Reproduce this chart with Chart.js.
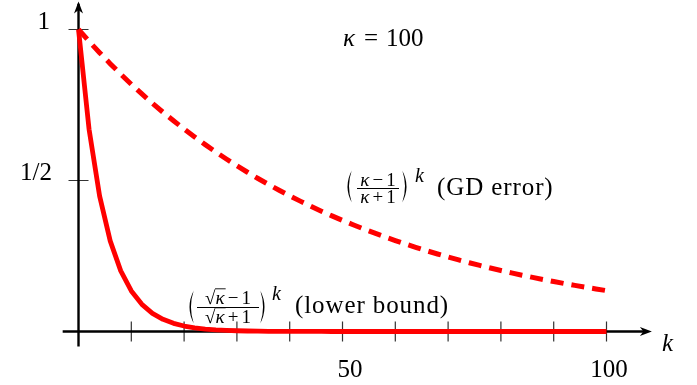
<!DOCTYPE html>
<html>
<head>
<meta charset="utf-8">
<script src="https://cdn.jsdelivr.net/npm/chart.js@4"></script>
<style>
html, body { margin: 0; padding: 0; background: #fff; }
</style>
</head>
<body>
<canvas id="chart" width="697" height="385"></canvas>
<script>
// k sample points, step 2 over 0..100
const kValues = [0, 2, 4, 6, 8, 10, 12, 14, 16, 18, 20, 22, 24, 26, 28, 30, 32, 34, 36, 38, 40,
	42, 44, 46, 48, 50, 52, 54, 56, 58, 60, 62, 64, 66, 68, 70, 72, 74, 76, 78, 80,
	82, 84, 86, 88, 90, 92, 94, 96, 98, 100];
// ((kappa-1)/(kappa+1))^k, dashed
const gdError = [1, 0.9608, 0.9231, 0.8869, 0.8521, 0.8187, 0.7866, 0.7558, 0.7261, 0.6977, 0.6703,
	0.6440, 0.6188, 0.5945, 0.5712, 0.5488, 0.5273, 0.5066, 0.4867, 0.4677, 0.4493,
	0.4317, 0.4148, 0.3985, 0.3829, 0.3679, 0.3534, 0.3396, 0.3263, 0.3135, 0.3012,
	0.2894, 0.2780, 0.2671, 0.2566, 0.2466, 0.2369, 0.2276, 0.2187, 0.2101, 0.2019,
	0.1940, 0.1864, 0.1791, 0.1720, 0.1653, 0.1588, 0.1526, 0.1466, 0.1409, 0.1353];
// ((sqrt(kappa)-1)/(sqrt(kappa)+1))^k, solid
const lowerBound = [1, 0.6694, 0.4481, 0.3000, 0.2008, 0.1344, 0.0900, 0.0602, 0.0403, 0.0270, 0.0181,
	0.0121, 0.0081, 0.0054, 0.0036, 0.0024, 0.0016, 0.0011, 0.0007, 0.0005, 0.0003,
	0.0002, 0.0001, 0.0001, 0, 0, 0, 0, 0, 0, 0,
	0, 0, 0, 0, 0, 0, 0, 0, 0, 0,
	0, 0, 0, 0, 0, 0, 0, 0, 0, 0];
const xTicks = [10, 20, 30, 40, 50, 60, 70, 80, 90, 100];
const yTicks = [0.5, 1];

const serif = '"Liberation Serif", "DejaVu Serif", serif';

function arrowHead(ctx, x, y, dir) {
	// stealth style arrow, dir: 'right' or 'up'
	ctx.save();
	ctx.translate(x, y);
	if (dir === 'up') ctx.rotate(-Math.PI / 2);
	ctx.beginPath();
	ctx.moveTo(0, 0);
	ctx.lineTo(-12, -4.5);
	ctx.lineTo(-8.5, 0);
	ctx.lineTo(-12, 4.5);
	ctx.closePath();
	ctx.fill();
	ctx.restore();
}

// thin TeX-like big parenthesis
function paren(ctx, x, top, bottom, left) {
	const mid = (top + bottom) / 2, w = 7;
	ctx.beginPath();
	if (left) {
		ctx.moveTo(x + w, top);
		ctx.quadraticCurveTo(x - 2, mid, x + w, bottom);
		ctx.lineTo(x + w - 0.3, bottom - 0.6);
		ctx.quadraticCurveTo(x + 1.2, mid, x + w - 0.3, top + 0.6);
	} else {
		ctx.moveTo(x, top);
		ctx.quadraticCurveTo(x + w + 2, mid, x, bottom);
		ctx.lineTo(x + 0.3, bottom - 0.6);
		ctx.quadraticCurveTo(x + w - 1.2, mid, x + 0.3, top + 0.6);
	}
	ctx.closePath();
	ctx.fill();
}

const axesPlugin = {
	id: 'axes',
	beforeDatasetsDraw(chart) {
		const ctx = chart.ctx, xs = chart.scales.x, ys = chart.scales.y;
		const X = v => xs.getPixelForValue(v), Y = v => ys.getPixelForValue(v);
		ctx.save();
		// ticks
		ctx.strokeStyle = '#333';
		ctx.lineWidth = 1.2;
		ctx.beginPath();
		for (let t of xTicks) {
			ctx.moveTo(X(t), Y(0) - 10);
			ctx.lineTo(X(t), Y(0) + 10);
		}
		for (let t of yTicks) {
			ctx.moveTo(X(0) - 10, Y(t));
			ctx.lineTo(X(0) + 10, Y(t));
		}
		ctx.stroke();
		// axis lines
		ctx.strokeStyle = '#000';
		ctx.fillStyle = '#000';
		ctx.lineWidth = 2.4;
		ctx.beginPath();
		ctx.moveTo(X(-3), Y(0));
		ctx.lineTo(X(107.5), Y(0));
		ctx.moveTo(X(0), Y(-0.05));
		ctx.lineTo(X(0), Y(1.085));
		ctx.stroke();
		arrowHead(ctx, X(108.6), Y(0), 'right');
		arrowHead(ctx, X(0), Y(1.093), 'up');
		ctx.restore();
	}
};

function drawFracPart(ctx, parts, cx, baseline, size) {
	// parts: [{t, italic, over, pad}] drawn centred at cx
	let widths = parts.map(p => {
		ctx.font = (p.italic ? 'italic ' : '') + size + 'px ' + serif;
		return ctx.measureText(p.t).width + 2 * (p.pad || 0);
	});
	let total = widths.reduce((a, b) => a + b, 0);
	let x = cx - total / 2;
	parts.forEach((p, i) => {
		ctx.font = (p.italic ? 'italic ' : '') + size + 'px ' + serif;
		ctx.fillText(p.t, x + (p.pad || 0), baseline);
		if (p.over) {
			ctx.beginPath();
			ctx.lineWidth = 0.9;
			ctx.moveTo(x - 0.5, baseline - size * 0.8);
			ctx.lineTo(x + widths[i] + 1, baseline - size * 0.8);
			ctx.stroke();
		}
		x += widths[i];
	});
}

const labelsPlugin = {
	id: 'labels',
	afterDatasetsDraw(chart) {
		const ctx = chart.ctx;
		ctx.save();
		ctx.fillStyle = '#000';
		ctx.strokeStyle = '#000';
		ctx.textBaseline = 'alphabetic';
		ctx.font = '25px ' + serif;
		// tick labels
		ctx.textAlign = 'right';
		ctx.fillText('1', 50, 29);
		ctx.fillText('1/2', 52, 180);
		ctx.textAlign = 'center';
		ctx.fillText('50', 350, 377);
		ctx.fillText('100', 609, 377);
		ctx.textAlign = 'left';
		ctx.font = 'italic 25px ' + serif;
		ctx.fillText('k', 662, 351);
		// kappa = 100
		ctx.fillText('κ', 343, 46);
		ctx.font = '25px ' + serif;
		ctx.textAlign = 'center';
		ctx.fillText('=', 371, 46);
		ctx.textAlign = 'left';
		ctx.fillText('100', 386, 46);

		// GD error label
		paren(ctx, 345, 170, 203, true);
		paren(ctx, 402, 170, 203, false);
		drawFracPart(ctx, [{t: 'κ', italic: true}, {t: '−', pad: 3}, {t: '1'}], 378, 186, 19);
		drawFracPart(ctx, [{t: 'κ', italic: true}, {t: '+', pad: 3}, {t: '1'}], 378, 203, 19);
		ctx.lineWidth = 1.1;
		ctx.beginPath();
		ctx.moveTo(357, 188.5);
		ctx.lineTo(399, 188.5);
		ctx.stroke();
		ctx.font = 'italic 20px ' + serif;
		ctx.fillText('k', 415, 182);
		ctx.font = '25px ' + serif;
		ctx.letterSpacing = '0.9px';
		ctx.fillText('(GD error)', 437, 195);
		ctx.letterSpacing = '0px';

		// lower bound label
		paren(ctx, 187, 290, 324, true);
		paren(ctx, 260, 290, 324, false);
		drawFracPart(ctx, [{t: '√'}, {t: 'κ', italic: true, over: true}, {t: '−', pad: 3}, {t: '1'}], 228, 304, 19);
		drawFracPart(ctx, [{t: '√'}, {t: 'κ', italic: true, over: true}, {t: '+', pad: 3}, {t: '1'}], 228, 323, 19);
		ctx.lineWidth = 1.1;
		ctx.beginPath();
		ctx.moveTo(197, 307.5);
		ctx.lineTo(259, 307.5);
		ctx.stroke();
		ctx.font = 'italic 20px ' + serif;
		ctx.fillText('k', 272, 300);
		ctx.font = '25px ' + serif;
		ctx.letterSpacing = '0.9px';
		ctx.fillText('(lower bound)', 295, 313);
		ctx.letterSpacing = '0px';
		ctx.restore();
	}
};

new Chart(document.getElementById('chart'), {
	type: 'line',
	data: {
		datasets: [{
			label: 'GD error',
			data: kValues.map((k, i) => ({x: k, y: gdError[i]})),
			borderColor: '#ff0000',
			borderWidth: 5,
			borderDash: [13, 8],
			borderCapStyle: 'butt',
			pointRadius: 0,
			tension: 0,
			fill: false
		}, {
			label: 'lower bound',
			data: kValues.map((k, i) => ({x: k, y: lowerBound[i]})),
			borderColor: '#ff0000',
			borderWidth: 4.8,
			borderJoinStyle: 'round',
			pointRadius: 0,
			tension: 0,
			fill: false
		}]
	},
	options: {
		responsive: false,
		animation: false,
		layout: { padding: 0 },
		plugins: {
			legend: { display: false },
			tooltip: { enabled: false }
		},
		scales: {
			x: { type: 'linear', min: -14.87, max: 117.14, display: false },
			y: { type: 'linear', min: -0.1772, max: 1.0977, display: false }
		}
	},
	plugins: [axesPlugin, labelsPlugin]
});
</script>
</body>
</html>
